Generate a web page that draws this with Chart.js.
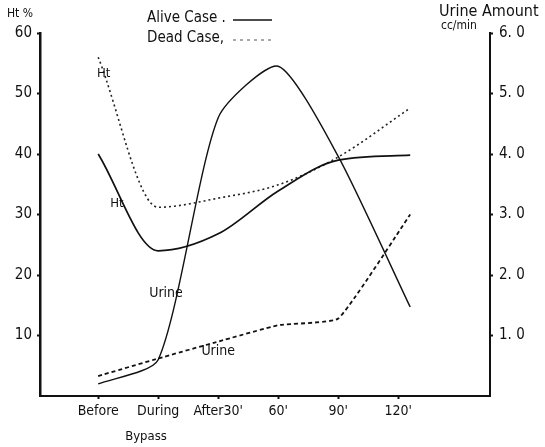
<!DOCTYPE html>
<html>
<head>
<meta charset="utf-8">
<script src="https://cdn.jsdelivr.net/npm/chart.js"></script>
<style>
  html, body { margin: 0; padding: 0; background: #fff; }
  #wrap { width: 545px; height: 447px; position: relative; }
</style>
</head>
<body>
<div id="wrap"><canvas id="htChart" width="545" height="447"></canvas></div>
<script>
// time points around the bypass
const categories = ['Before', 'During', "After30'", "60'", "90'", "120'"];
const samplePos = [1, 2, 3, 4, 5, 6.2];

// Ht % (left axis)
const htAlive = [40, 24, 26.8, 33.9, 39, 39.8];
const htDead = [56, 31.2, 32.7, 34.9, 39.5, 47.6];

// urine amount cc/min (right axis)
const urineAlive = [0.2, 0.6, 4.6, 5.45, 3.96, 1.47];
const urineDead = [0.33, 0.62, 0.9, 1.17, 1.28, 3.0];

const htTicks = [10, 20, 30, 40, 50, 60];
const urineTicks = [1, 2, 3, 4, 5, 6];

const FONT = '"DejaVu Sans Condensed", "Liberation Sans Narrow", "DejaVu Sans", sans-serif';
const INK = '#111';

const toPoints = (vals) => vals.map((v, i) => ({ x: samplePos[i], y: v }));

// titles, legend and curve labels
const annotations = {
    id: 'annotations',
    afterDraw(chart) {
        const { ctx, scales } = chart;
        const x = scales.x, yHt = scales.yHt, yU = scales.yUrine;
        ctx.save();
        ctx.fillStyle = INK;
        ctx.textBaseline = 'middle';

        ctx.font = '12px ' + FONT;
        ctx.textAlign = 'left';
        ctx.fillText('Ht %', 7, 14);
        ctx.font = '16px ' + FONT;
        ctx.fillText('Urine Amount', 439, 12);
        ctx.font = '12px ' + FONT;
        ctx.fillText('cc/min', 441, 26);

        // legend
        ctx.font = '15px ' + FONT;
        ctx.fillText('Alive Case .', 147, 18);
        ctx.fillText('Dead Case,', 147, 38);
        ctx.strokeStyle = INK;
        ctx.lineWidth = 1.5;
        ctx.beginPath();
        ctx.moveTo(233, 20);
        ctx.lineTo(272, 20);
        ctx.stroke();
        ctx.setLineDash([3, 4]);
        ctx.lineWidth = 1;
        ctx.strokeStyle = '#555';
        ctx.beginPath();
        ctx.moveTo(233, 40);
        ctx.lineTo(272, 40);
        ctx.stroke();
        ctx.setLineDash([]);

        // curve labels
        ctx.font = '13px ' + FONT;
        ctx.fillText('Ht', x.getPixelForValue(0.98), yHt.getPixelForValue(53.3));
        ctx.fillText('Ht', x.getPixelForValue(1.2), yHt.getPixelForValue(31.8));
        ctx.font = '14px ' + FONT;
        ctx.fillText('Urine', x.getPixelForValue(1.85), yU.getPixelForValue(1.7));
        ctx.fillText('Urine', x.getPixelForValue(2.72), yU.getPixelForValue(0.73));

        ctx.font = '13px ' + FONT;
        ctx.textAlign = 'center';
        ctx.fillText('Bypass', 146, 437);
        ctx.restore();
    }
};

new Chart(document.getElementById('htChart'), {
    type: 'line',
    data: {
        datasets: [
            {
                label: 'Ht alive',
                data: toPoints(htAlive),
                yAxisID: 'yHt',
                borderColor: INK,
                borderWidth: 1.7,
                cubicInterpolationMode: 'monotone',
                pointRadius: 0,
            },
            {
                label: 'Ht dead',
                data: toPoints(htDead),
                yAxisID: 'yHt',
                borderColor: '#222',
                borderWidth: 1.6,
                borderDash: [2, 3],
                cubicInterpolationMode: 'monotone',
                pointRadius: 0,
            },
            {
                label: 'Urine alive',
                data: toPoints(urineAlive),
                yAxisID: 'yUrine',
                borderColor: INK,
                borderWidth: 1.4,
                tension: 0.22,
                pointRadius: 0,
            },
            {
                label: 'Urine dead',
                data: toPoints(urineDead),
                yAxisID: 'yUrine',
                borderColor: INK,
                borderWidth: 1.8,
                borderDash: [4, 3],
                tension: 0.12,
                pointRadius: 0,
            },
        ],
    },
    options: {
        responsive: false,
        animation: false,
        events: [],
        layout: { padding: { top: 33, left: 0, right: 0, bottom: 0 } },
        plugins: { legend: { display: false }, tooltip: { enabled: false } },
        scales: {
            x: {
                type: 'linear',
                min: 0.03,
                max: 7.53,
                afterBuildTicks: (s) => { s.ticks = categories.map((c, i) => ({ value: i + 1 })); },
                afterFit: (s) => { s.height = 51; },
                ticks: {
                    autoSkip: false,
                    maxRotation: 0,
                    padding: 4,
                    color: INK,
                    font: { family: FONT, size: 14 },
                    callback: (v) => categories[v - 1] || '',
                },
                grid: { drawOnChartArea: false, tickLength: 3, tickColor: INK, tickWidth: 2 },
                border: { display: true, color: INK, width: 2 },
            },
            yHt: {
                position: 'left',
                min: 0,
                max: 60,
                afterBuildTicks: (s) => { s.ticks = htTicks.map((v) => ({ value: v })); },
                afterFit: (s) => { s.width = 40; },
                ticks: {
                    padding: 5,
                    color: INK,
                    font: { family: FONT, size: 15 },
                },
                grid: { drawOnChartArea: false, tickLength: 3, tickColor: INK, tickWidth: 2 },
                border: { display: true, color: INK, width: 2.5 },
            },
            yUrine: {
                position: 'right',
                min: 0,
                max: 6,
                afterBuildTicks: (s) => { s.ticks = urineTicks.map((v) => ({ value: v })); },
                afterFit: (s) => { s.width = 55; },
                ticks: {
                    padding: 6,
                    color: INK,
                    font: { family: FONT, size: 15 },
                    callback: (v) => v.toFixed(1).replace('.', '. '),
                },
                grid: { drawOnChartArea: false, tickLength: 3, tickColor: INK, tickWidth: 2 },
                border: { display: true, color: INK, width: 2 },
            },
        },
    },
    plugins: [annotations],
});
</script>
</body>
</html>
